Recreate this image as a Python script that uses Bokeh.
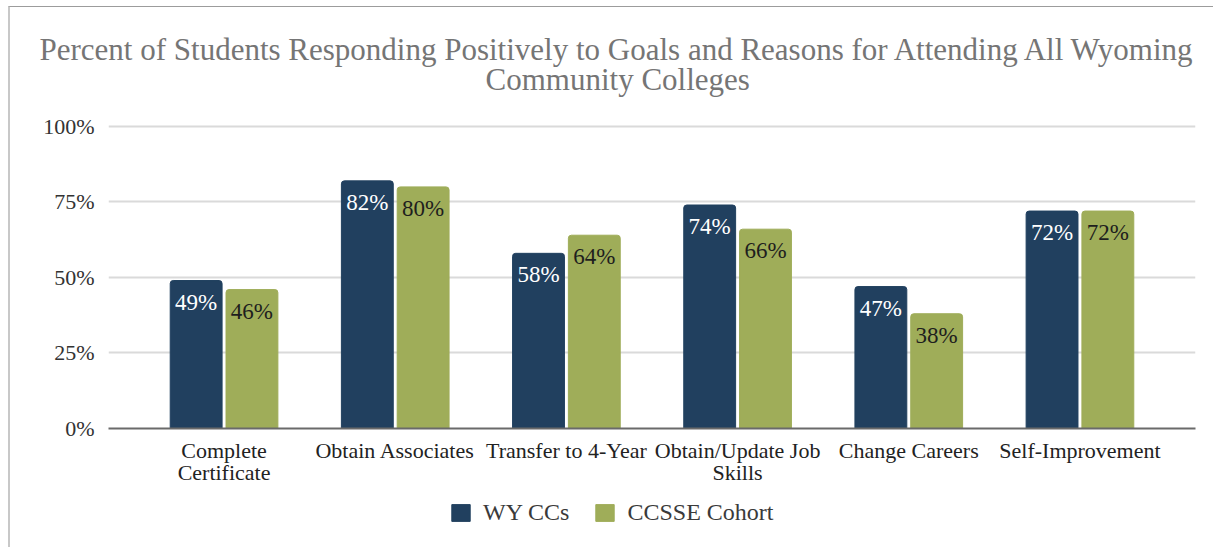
from bokeh.plotting import figure
from bokeh.layouts import column
from bokeh.models import (Range1d, FixedTicker, PrintfTickFormatter, LinearAxis,
                          Legend, LegendItem, ColumnDataSource, Title)
from bokeh.transform import dodge
from bokeh.core.properties import value
from bokeh.embed import file_html
from bokeh.resources import INLINE

categories = ["Complete Certificate", "Obtain Associates", "Transfer to 4-Year",
              "Obtain/Update Job Skills", "Change Careers", "Self-Improvement"]
label_line1 = ["Complete", "Obtain Associates", "Transfer to 4-Year",
               "Obtain/Update Job", "Change Careers", "Self-Improvement"]
label_line2 = ["Certificate", "", "", "Skills", "", ""]
wy_ccs = [49, 82, 58, 74, 47, 72]
ccsse_cohort = [46, 80, 64, 66, 38, 72]
y_ticks = [0, 25, 50, 75, 100]
series_names = ["WY CCs", "CCSSE Cohort"]
title_lines = ["Percent of Students Responding Positively to Goals and Reasons for Attending All Wyoming",
               "Community Colleges"]

NAVY = "#21405f"
GREEN = "#9fad59"
FONT = "'Liberation Serif', 'Times New Roman', serif"

idx = list(range(len(categories)))
src = ColumnDataSource(dict(
    idx=idx,
    cat=categories,
    wy=wy_ccs,
    cc=ccsse_cohort,
    wy_lbl=[f"{v}%" for v in wy_ccs],
    cc_lbl=[f"{v}%" for v in ccsse_cohort],
))

W = 1203
p = figure(
    width=W, height=480, title=None,
    x_range=Range1d(-0.675, len(categories) - 1 + 0.675),
    y_range=Range1d(0, 109.6),
    output_backend="svg", toolbar_location=None,
    min_border_left=98, min_border_right=18, min_border_top=90, min_border_bottom=58,
)

# two-line title (line nearest the plot added first)
for txt, so, off in [(title_lines[1], 2, 377), (title_lines[0], -16, -69)]:
    p.add_layout(Title(text=txt, align="left", offset=off, text_font=FONT, text_font_size="31px",
                       text_font_style="normal", text_color="#757575", standoff=so), "above")

p.outline_line_color = None
p.background_fill_color = "white"
p.border_fill_color = "white"

p.xgrid.grid_line_color = None
p.ygrid.grid_line_color = "#dadada"
p.ygrid.grid_line_width = 2
p.yaxis.ticker = FixedTicker(ticks=y_ticks)
p.yaxis.formatter = PrintfTickFormatter(format="%d%%")
p.yaxis.axis_line_color = None
p.yaxis.major_tick_line_color = None
p.yaxis.minor_tick_line_color = None
p.yaxis.major_label_text_font = FONT
p.yaxis.major_label_text_font_size = "22px"
p.yaxis.major_label_text_color = "#333333"
p.yaxis.major_label_standoff = 8

p.xaxis.ticker = FixedTicker(ticks=idx)
p.xaxis.axis_line_color = "#6a6a6a"
p.xaxis.axis_line_width = 2
p.xaxis.major_tick_line_color = None
p.xaxis.minor_tick_line_color = None
p.xaxis.major_label_text_font = FONT
p.xaxis.major_label_text_font_size = "22px"
p.xaxis.major_label_text_color = "#222222"
p.xaxis.major_label_standoff = 3
p.xaxis.major_label_overrides = dict(zip(idx, label_line1))

ax2 = LinearAxis(ticker=FixedTicker(ticks=idx),
                 axis_line_color=None, major_tick_line_color=None, minor_tick_line_color=None,
                 major_label_text_font=FONT, major_label_text_font_size="22px",
                 major_label_text_color="#222222", major_label_standoff=-12,
                 major_label_overrides=dict(zip(idx, label_line2)))
p.add_layout(ax2, "below")

r1 = p.vbar(x=dodge("idx", -0.163, range=p.x_range), top="wy", width=0.303, source=src,
            fill_color=NAVY, line_color=NAVY, border_radius=(3, 3, 0, 0))
r2 = p.vbar(x=dodge("idx", 0.163, range=p.x_range), top="cc", width=0.303, source=src,
            fill_color=GREEN, line_color=GREEN, border_radius=(3, 3, 0, 0))

p.text(x=dodge("idx", -0.163, range=p.x_range), y="wy", text="wy_lbl", source=src,
       text_align="center", text_baseline="top", y_offset=9,
       text_font=value(FONT), text_font_size="23px", text_color="white")
p.text(x=dodge("idx", 0.163, range=p.x_range), y="cc", text="cc_lbl", source=src,
       text_align="center", text_baseline="top", y_offset=9,
       text_font=value(FONT), text_font_size="23px", text_color="#1e1e1e")

# legend strip below the chart
lg = figure(width=W, height=60, x_range=Range1d(0, 1), y_range=Range1d(0, 1),
            output_backend="svg", toolbar_location=None, min_border=0)
lg.axis.visible = False
lg.grid.visible = False
lg.outline_line_color = None
lr1 = lg.vbar(x="idx", top="wy", width=0.1, source=src, fill_color=NAVY, line_color=NAVY, visible=False)
lr2 = lg.vbar(x="idx", top="cc", width=0.1, source=src, fill_color=GREEN, line_color=GREEN, visible=False)
legend = Legend(items=[LegendItem(label=series_names[0], renderers=[lr1]),
                       LegendItem(label=series_names[1], renderers=[lr2])],
                orientation="horizontal", location=(341, 21),
                label_text_font=FONT, label_text_font_size="24px", label_text_color="#3a3a3a",
                glyph_width=23, glyph_height=21, label_standoff=11, spacing=24,
                padding=0, margin=0, border_line_color=None, background_fill_alpha=0)
lg.add_layout(legend, "center")

layout = column(p, lg, spacing=0,
                styles={"margin-left": "8px", "margin-top": "6px",
                        "border-left": "2px solid #c8c8c8", "border-top": "1px solid #9c9c9c"})

open("out.html", "w").write(file_html(layout, INLINE))
